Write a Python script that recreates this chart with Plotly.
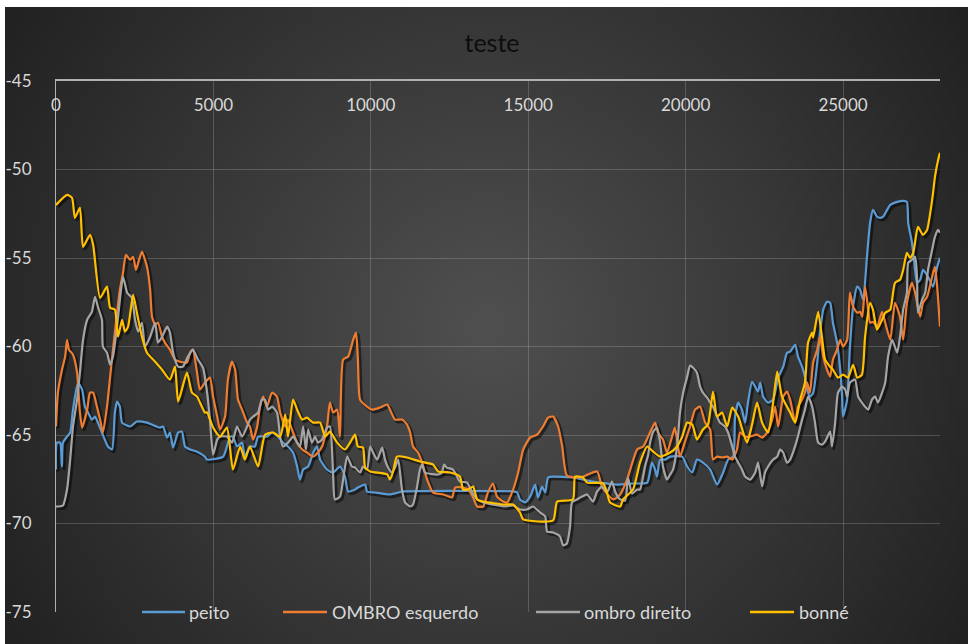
import base64
import math
import struct
import zlib

import plotly.graph_objects as go

# ---- data: (sample, level) pairs per sensor ----
peito = [
    (0, -66.95), (30, -65.43), (130, -65.43), (190, -66.78), (220, -65.43), (350, -65.09), (450, -64.86), (540, -63.57),
    (700, -62.04), (830, -62.44), (920, -63.40), (1020, -63.73), (1140, -64.13), (1240, -63.96), (1330, -64.30),
    (1460, -64.86), (1650, -65.65), (1780, -65.82), (1870, -63.73), (1940, -63.11), (2030, -63.40), (2100, -64.30),
    (2350, -64.52), (2570, -64.24), (2890, -64.30), (3300, -64.58), (3400, -64.52), (3530, -65.15), (3620, -64.86),
    (3720, -65.71), (3880, -64.86), (4000, -64.81), (4100, -65.65), (4260, -65.82), (4480, -65.94), (4730, -66.22),
    (4800, -66.39), (5310, -66.22), (5530, -65.09), (5620, -65.09), (5750, -65.65), (5910, -65.43), (6000, -66.22),
    (6160, -65.65), (6320, -65.65), (6420, -65.09), (6700, -65.09), (6860, -64.86), (7050, -65.09), (7210, -65.43),
    (7370, -65.65), (7530, -65.99), (7660, -66.78), (7750, -67.52), (7850, -66.95), (8010, -66.78), (8170, -65.99),
    (8290, -65.65), (8390, -66.39), (8610, -66.95), (8800, -67.12), (9020, -66.78), (9180, -67.35), (9280, -68.19),
    (9500, -68.08), (9590, -67.97), (9820, -67.80), (9880, -68.19), (10130, -68.25), (10610, -68.36), (10870, -68.25),
    (11020, -68.19), (14520, -68.19), (14650, -68.25), (14740, -68.64), (14900, -68.81), (15060, -68.48),
    (15220, -67.80), (15310, -68.53), (15440, -67.91), (15540, -68.25), (15630, -67.40), (15790, -67.35),
    (16420, -67.40), (16870, -67.57), (17280, -67.69), (17820, -67.80), (18330, -67.74), (18780, -67.69),
    (18930, -66.56), (19030, -66.95), (19090, -67.35), (19190, -66.39), (19350, -66.39), (19510, -66.22),
    (19890, -66.22), (20050, -66.78), (20210, -67.12), (20360, -66.39), (20550, -66.56), (20780, -66.95),
    (21000, -67.80), (21190, -67.12), (21350, -66.39), (21510, -66.22), (21570, -63.96), (21670, -63.17),
    (21790, -63.57), (21890, -64.30), (21980, -63.17), (22110, -61.99), (22210, -62.27), (22300, -62.55),
    (22370, -62.04), (22460, -62.83), (22620, -63.17), (22780, -63.00), (22940, -61.76), (23100, -61.14),
    (23220, -60.35), (23320, -60.29), (23480, -59.90), (23570, -60.57), (23700, -61.14), (23790, -61.70),
    (23860, -62.44), (23950, -62.83), (24050, -62.61), (24180, -60.91), (24270, -59.22), (24370, -57.92),
    (24490, -57.47), (24590, -57.53), (24680, -58.66), (24810, -59.78), (24910, -61.31), (24970, -62.83),
    (25000, -63.96), (25130, -63.00), (25220, -60.01), (25320, -57.75), (25450, -56.62), (25540, -56.79),
    (25640, -57.36), (25760, -54.93), (25860, -53.01), (25950, -52.28), (26080, -52.67), (26180, -52.73),
    (26270, -52.67), (26500, -52.00), (26720, -51.83), (26910, -51.77), (27030, -51.83), (27070, -53.01),
    (27190, -54.14), (27290, -55.67), (27350, -56.40), (27450, -56.23), (27540, -55.67), (27700, -56.06),
    (27860, -56.62), (27990, -55.50), (28080, -54.99),
]

ombro_esquerdo = [
    (0, -64.52), (60, -62.61), (190, -61.31), (290, -60.57), (350, -59.62), (410, -60.18), (540, -60.46), (670, -61.48),
    (760, -63.73), (830, -64.58), (990, -63.57), (1080, -62.61), (1180, -62.61), (1300, -63.40), (1400, -64.13),
    (1490, -64.86), (1620, -63.40), (1720, -61.70), (1810, -60.18), (1940, -58.09), (2030, -56.79), (2130, -55.83),
    (2220, -54.82), (2350, -55.10), (2450, -54.93), (2540, -55.67), (2640, -55.10), (2730, -54.65), (2890, -55.50),
    (2990, -56.79), (3050, -58.32), (3150, -58.77), (3240, -58.66), (3370, -59.45), (3460, -59.78), (3620, -60.18),
    (3780, -60.74), (3940, -60.86), (4160, -60.91), (4260, -60.35), (4350, -60.18), (4480, -61.48), (4570, -62.44),
    (4730, -62.04), (4890, -61.76), (4990, -62.83), (5120, -63.96), (5210, -64.69), (5370, -63.96), (5460, -61.87),
    (5590, -60.86), (5690, -61.31), (5780, -63.00), (5910, -63.57), (6070, -64.30), (6160, -64.52), (6260, -65.26),
    (6390, -64.52), (6480, -63.40), (6580, -62.83), (6700, -63.40), (6860, -62.61), (7020, -62.83), (7120, -63.73),
    (7280, -64.52), (7370, -64.13), (7530, -64.86), (7660, -65.43), (7820, -65.82), (7970, -65.99), (8170, -66.22),
    (8320, -65.99), (8450, -65.65), (8610, -64.52), (8700, -63.17), (8800, -63.73), (8930, -63.57), (9020, -65.09),
    (9120, -60.74), (9280, -60.57), (9440, -59.62), (9530, -59.22), (9590, -60.74), (9660, -63.00), (9880, -63.40),
    (10040, -63.57), (10290, -63.45), (10520, -63.28), (10610, -63.57), (10770, -64.13), (10990, -64.13),
    (11150, -64.41), (11250, -64.86), (11340, -65.65), (11500, -65.99), (11630, -66.56), (11790, -67.52),
    (11980, -68.25), (12300, -68.36), (12580, -68.53), (12680, -67.97), (12930, -67.97), (13090, -68.08),
    (13250, -68.53), (13380, -69.04), (13570, -69.04), (13720, -68.25), (13880, -67.74), (14010, -68.48),
    (14200, -68.76), (14330, -68.81), (14520, -68.08), (14680, -67.12), (14840, -65.82), (15060, -65.15),
    (15280, -64.98), (15470, -64.52), (15630, -64.02), (15790, -63.96), (15950, -64.52), (16080, -65.65),
    (16230, -67.29), (16650, -67.40), (17190, -67.06), (17350, -67.97), (17700, -68.64), (17920, -68.36),
    (18140, -67.52), (18460, -65.82), (18650, -65.65), (18810, -65.09), (19030, -64.30), (19120, -64.86),
    (19280, -65.26), (19410, -65.99), (19570, -65.09), (19660, -64.58), (19820, -66.22), (19980, -65.37),
    (20140, -64.52), (20300, -63.57), (20460, -63.40), (20620, -64.30), (20780, -64.69), (20870, -66.39),
    (21000, -66.22), (21160, -66.27), (21320, -66.22), (21480, -66.39), (21630, -65.82), (21730, -64.86),
    (21890, -65.09), (22050, -65.09), (22270, -64.98), (22430, -65.15), (22590, -64.86), (22750, -64.13),
    (22840, -63.40), (22940, -64.52), (23100, -62.83), (23220, -62.55), (23320, -63.00), (23480, -64.30),
    (23570, -63.40), (23700, -63.00), (23790, -62.61), (23860, -62.04), (23950, -62.61), (24050, -60.91),
    (24180, -60.18), (24270, -59.45), (24370, -60.57), (24490, -61.31), (24590, -61.70), (24680, -60.74),
    (24810, -60.18), (24910, -59.62), (25000, -60.01), (25130, -59.62), (25220, -56.96), (25320, -57.75),
    (25450, -58.09), (25540, -58.04), (25610, -58.32), (25700, -56.62), (25800, -57.92), (25860, -58.66),
    (25950, -58.60), (26080, -58.88), (26240, -58.04), (26340, -58.66), (26500, -59.62), (26650, -57.53),
    (26810, -58.32), (26910, -59.62), (27030, -57.53), (27190, -56.40), (27290, -56.96), (27450, -58.32),
    (27540, -57.53), (27670, -57.19), (27830, -56.06), (27920, -55.50), (27990, -56.62), (28080, -58.88),
]

ombro_direito = [
    (0, -69.04), (220, -68.98), (350, -68.08), (450, -66.39), (540, -64.52), (670, -63.00), (760, -61.48), (860, -59.62),
    (990, -58.49), (1140, -58.04), (1240, -57.19), (1330, -57.75), (1460, -58.49), (1490, -60.01), (1620, -60.35),
    (1720, -61.03), (1810, -60.57), (1940, -58.88), (2030, -57.36), (2130, -56.06), (2260, -56.96), (2410, -57.25),
    (2510, -58.49), (2610, -59.16), (2730, -58.66), (2830, -60.01), (2990, -59.45), (3150, -58.66), (3240, -59.78),
    (3370, -59.45), (3530, -58.88), (3620, -59.22), (3720, -60.35), (3880, -61.14), (4030, -61.14), (4190, -60.57),
    (4350, -60.18), (4510, -60.74), (4670, -61.20), (4800, -62.61), (4890, -64.13), (4990, -66.11), (5120, -65.26),
    (5210, -65.09), (5430, -65.09), (5590, -65.43), (5750, -64.52), (5910, -65.09), (6070, -64.52), (6160, -64.13),
    (6260, -63.96), (6420, -63.73), (6540, -63.00), (6640, -63.00), (6740, -63.57), (6860, -63.40), (7020, -63.73),
    (7120, -65.09), (7210, -65.65), (7370, -65.43), (7530, -65.09), (7660, -65.43), (7750, -65.65), (7850, -64.52),
    (7940, -65.82), (8010, -64.69), (8130, -65.43), (8230, -65.09), (8320, -65.43), (8450, -65.26), (8610, -64.58),
    (8700, -64.52), (8800, -67.12), (8860, -68.64), (9020, -68.48), (9120, -67.52), (9250, -66.22), (9400, -66.78),
    (9500, -66.84), (9660, -67.12), (9750, -66.78), (9880, -66.95), (9980, -65.65), (10070, -65.99), (10200, -66.39),
    (10360, -65.71), (10450, -66.39), (10550, -66.84), (10670, -67.12), (10770, -66.84), (10870, -66.39),
    (10990, -68.08), (11090, -68.81), (11250, -69.04), (11340, -68.93), (11470, -67.91), (11560, -66.95),
    (11630, -66.67), (11720, -67.12), (12140, -67.23), (12260, -67.12), (12330, -66.67), (12420, -66.84),
    (12610, -66.95), (12740, -67.35), (12830, -67.63), (13060, -67.69), (13220, -68.25), (13380, -68.64),
    (13570, -68.81), (13880, -68.93), (14260, -69.04), (14520, -68.98), (14740, -69.21), (14960, -69.21),
    (15150, -69.04), (15380, -69.38), (15540, -69.60), (15600, -70.45), (15790, -70.51), (16010, -70.73),
    (16110, -71.24), (16230, -71.13), (16330, -70.17), (16390, -68.81), (16550, -68.64), (16710, -68.48),
    (16870, -68.36), (17060, -68.76), (17190, -68.19), (17350, -67.91), (17500, -68.25), (17660, -67.63),
    (17760, -68.19), (17920, -68.64), (18080, -68.70), (18170, -67.40), (18300, -68.31), (18460, -68.08),
    (18550, -68.08), (18710, -66.78), (18810, -66.11), (18870, -65.43), (18970, -64.81), (19090, -64.58),
    (19190, -65.43), (19280, -66.78), (19410, -67.52), (19510, -67.23), (19600, -66.95), (19730, -65.65),
    (19820, -63.73), (19920, -62.61), (20050, -61.70), (20140, -61.08), (20240, -61.20), (20360, -61.48),
    (20460, -62.27), (20550, -62.61), (20680, -62.89), (20780, -63.17), (20870, -63.40), (21000, -63.96),
    (21090, -64.30), (21250, -64.52), (21350, -64.86), (21480, -65.65), (21570, -66.22), (21670, -66.56),
    (21790, -66.95), (21890, -67.35), (22050, -67.52), (22210, -67.12), (22300, -66.56), (22430, -67.91),
    (22520, -67.12), (22620, -66.78), (22780, -66.39), (22910, -66.22), (23000, -65.82), (23100, -65.99),
    (23220, -66.56), (23320, -66.39), (23410, -65.99), (23540, -65.26), (23700, -64.13), (23790, -63.57),
    (23890, -62.83), (24020, -63.40), (24110, -64.30), (24210, -65.43), (24330, -65.54), (24430, -65.37),
    (24590, -64.81), (24650, -65.65), (24750, -64.30), (24840, -62.61), (24970, -62.27), (25070, -62.44),
    (25130, -62.83), (25220, -62.04), (25380, -61.87), (25480, -62.83), (25600, -63.17), (25700, -63.40),
    (25800, -63.57), (25920, -63.00), (26020, -62.83), (26110, -63.17), (26240, -62.61), (26340, -62.04),
    (26430, -60.57), (26560, -59.62), (26720, -60.35), (26810, -59.45), (26910, -57.92), (27030, -56.96),
    (27070, -55.27), (27190, -55.10), (27290, -54.93), (27350, -56.06), (27380, -58.09), (27510, -57.36),
    (27610, -56.96), (27700, -55.67), (27830, -54.54), (27920, -53.80), (28020, -53.41), (28080, -53.58),
]

bonne = [
    (0, -52.00), (350, -51.43), (510, -51.60), (600, -52.73), (760, -52.17), (860, -54.37), (1080, -53.69),
    (1180, -54.25), (1400, -57.25), (1620, -56.62), (1720, -57.81), (1870, -57.92), (1970, -59.45), (2100, -58.49),
    (2190, -59.16), (2290, -58.88), (2450, -57.08), (2570, -58.09), (2730, -59.45), (2890, -60.35), (3150, -60.86),
    (3370, -61.31), (3620, -61.87), (3780, -61.14), (3880, -63.11), (4160, -61.48), (4320, -62.61), (4480, -62.83),
    (4730, -63.73), (4800, -63.73), (4990, -64.58), (5210, -65.09), (5430, -64.58), (5620, -66.95), (5850, -65.65),
    (6000, -66.39), (6160, -65.65), (6420, -66.78), (6640, -64.98), (6890, -64.86), (7120, -65.09), (7280, -63.85),
    (7370, -65.09), (7530, -63.00), (7660, -63.57), (7820, -64.13), (7970, -64.02), (8170, -64.30), (8390, -64.30),
    (8550, -65.09), (8700, -64.81), (8930, -65.43), (9180, -65.82), (9340, -65.43), (9500, -64.98), (9590, -65.65),
    (9750, -65.71), (9820, -66.84), (9980, -67.06), (10520, -67.23), (10610, -67.52), (10710, -67.06),
    (10830, -66.22), (11150, -66.27), (11560, -66.50), (11980, -66.67), (12140, -67.06), (12520, -67.12),
    (12830, -67.35), (12930, -68.08), (13090, -68.08), (13250, -67.91), (13380, -68.64), (13570, -68.76),
    (14260, -68.93), (14520, -68.93), (14740, -69.38), (14840, -69.77), (15790, -69.83), (15920, -68.76),
    (16420, -68.64), (16490, -67.35), (16740, -67.40), (16870, -67.69), (17380, -67.74), (17500, -68.25),
    (17600, -68.81), (17920, -69.04), (18010, -68.64), (18330, -68.08), (18550, -66.56), (18780, -65.65),
    (18970, -65.94), (19190, -66.22), (19510, -65.99), (19730, -65.65), (19890, -65.09), (20050, -64.30),
    (20210, -64.41), (20360, -65.26), (20550, -64.69), (20710, -64.41), (20870, -62.55), (21000, -63.96),
    (21160, -63.73), (21320, -64.52), (21480, -63.45), (21670, -63.96), (21830, -64.86), (21950, -65.43),
    (22110, -64.41), (22270, -63.17), (22430, -64.30), (22620, -64.86), (22780, -63.17), (22910, -61.42),
    (23060, -62.83), (23320, -63.73), (23480, -64.30), (23640, -63.00), (23790, -62.04), (23890, -59.78),
    (24020, -59.22), (24050, -59.50), (24210, -58.04), (24330, -59.45), (24430, -60.74), (24590, -61.14),
    (24680, -61.31), (24840, -61.76), (25000, -61.59), (25160, -61.76), (25320, -61.03), (25450, -61.76),
    (25600, -61.59), (25700, -59.45), (25860, -57.53), (25950, -57.92), (26080, -59.05), (26240, -58.49),
    (26340, -58.09), (26500, -57.92), (26650, -56.40), (26810, -56.23), (26910, -55.67), (27030, -54.71),
    (27130, -54.99), (27230, -54.71), (27380, -53.24), (27540, -53.69), (27670, -53.41), (27770, -52.45),
    (27860, -51.32), (27920, -50.42), (28020, -49.46), (28080, -49.06),
]

series = [
    ("peito", peito, "#5b9bd5"),
    ("OMBRO esquerdo", ombro_esquerdo, "#ed7d31"),
    ("ombro direito", ombro_direito, "#a5a5a5"),
    ("bonné", bonne, "#ffc000"),
]

x_ticks = [0, 5000, 10000, 15000, 20000, 25000]
x_tick_text = ["0", "5000", "10000", "15000", "20000", "25000"]
y_ticks = [-75, -70, -65, -60, -55, -50, -45]
y_tick_text = ["-75", "-70", "-65", "-60", "-55", "-50", "-45"]
X_RANGE = [0, 28080]
Y_RANGE = [-75, -45]

# ---- figure geometry (pixels) ----
FIG_W, FIG_H = 968, 644
M_L, M_R, M_T, M_B = 56, 28, 81, 32
PLOT_W = FIG_W - M_L - M_R
PLOT_H = FIG_H - M_T - M_B


def px_to_paper_x(px):
    return (px - M_L) / PLOT_W


def px_to_paper_y(py):
    return 1 - (py - M_T) / PLOT_H


def radial_gradient_png(w, h, inner, outer):
    """Small PNG with a circular gradient, brightest in the middle."""
    cx, cy = w / 2, h / 2
    rmax = math.hypot(cx, cy)
    raw = bytearray()
    for j in range(h):
        raw.append(0)
        for i in range(w):
            d = math.hypot(i + 0.5 - cx, j + 0.5 - cy) / rmax
            v = int(round(inner + (outer - inner) * d))
            raw.extend((v, v, v))

    def chunk(tag, data):
        c = struct.pack(">I", len(data)) + tag + data
        return c + struct.pack(">I", zlib.crc32(tag + data) & 0xFFFFFFFF)

    png = b"\x89PNG\r\n\x1a\n"
    png += chunk(b"IHDR", struct.pack(">IIBBBBB", w, h, 8, 2, 0, 0, 0))
    png += chunk(b"IDAT", zlib.compress(bytes(raw), 9))
    png += chunk(b"IEND", b"")
    return "data:image/png;base64," + base64.b64encode(png).decode()


FONT = "Lato, 'Open Sans', sans-serif"
LABEL_COLOR = "#d9d9d9"
GRID_COLOR = "rgba(217,217,217,0.22)"
AXIS_COLOR = "#b0b0b0"
LINE_SHAPE = dict(shape="spline", smoothing=0.55)

fig = go.Figure()

# empty trace so the main (labelled) axes get their own subplot
fig.add_trace(go.Scatter(x=[], y=[], xaxis="x", yaxis="y",
                         hoverinfo="skip", showlegend=False))

# drop shadows under each line (axes shifted by a couple of pixels)
shift_x = 2 * (X_RANGE[1] - X_RANGE[0]) / PLOT_W
shift_y = 2 * (Y_RANGE[1] - Y_RANGE[0]) / PLOT_H
for name, pts, color in series:
    xs, ys = zip(*pts)
    fig.add_trace(go.Scatter(
        x=xs, y=ys, mode="lines", xaxis="x2", yaxis="y2",
        line=dict(color="rgba(0,0,0,0.5)", width=3.4, **LINE_SHAPE),
        hoverinfo="skip", showlegend=False,
    ))

for name, pts, color in series:
    xs, ys = zip(*pts)
    fig.add_trace(go.Scatter(
        x=xs, y=ys, mode="lines", name=name, xaxis="x3", yaxis="y3",
        line=dict(color=color, width=2.2, **LINE_SHAPE), showlegend=False,
    ))

# legend drawn along the bottom of the plot area
legend_items = [
    # (line start px, line end px, text start px)
    (142, 185, 188),
    (283, 327, 331),
    (536, 580, 583),
    (750, 794, 798),
]
shapes = []
annotations = []
legend_y = px_to_paper_y(612)
for (name, pts, color), (l0, l1, t0) in zip(series, legend_items):
    shapes.append(dict(
        type="line", xref="paper", yref="paper",
        x0=px_to_paper_x(l0), x1=px_to_paper_x(l1), y0=legend_y, y1=legend_y,
        line=dict(color=color, width=2.5),
    ))
    annotations.append(dict(
        xref="paper", yref="paper", x=px_to_paper_x(t0), y=legend_y,
        xanchor="left", yanchor="middle", text=name, showarrow=False,
        font=dict(family=FONT, size=18, color=LABEL_COLOR), borderpad=0,
    ))

bg_left, bg_top = 5, 7
images = [dict(
    source=radial_gradient_png(121, 80, 80, 33),
    xref="paper", yref="paper",
    x=px_to_paper_x(bg_left), y=px_to_paper_y(bg_top),
    sizex=(FIG_W - bg_left) / PLOT_W, sizey=(FIG_H - bg_top) / PLOT_H,
    xanchor="left", yanchor="top", sizing="stretch", layer="below",
)]

hidden = dict(visible=False, showgrid=False, zeroline=False, fixedrange=True)

fig.update_layout(
    width=FIG_W, height=FIG_H,
    margin=dict(l=M_L, r=M_R, t=M_T, b=M_B, pad=0, autoexpand=False),
    paper_bgcolor="white",
    plot_bgcolor="rgba(0,0,0,0)",
    font=dict(family=FONT, color=LABEL_COLOR),
    title=dict(
        text="teste", x=px_to_paper_x(492), xref="paper", xanchor="center",
        y=1 - 43 / FIG_H, yref="container", yanchor="middle",
        font=dict(family=FONT, size=25, color="#0d0d0d"),
    ),
    xaxis=dict(
        range=X_RANGE, side="top", tickvals=x_ticks, ticktext=x_tick_text, ticks="",
        ticklabelposition="inside", ticklabelstandoff=19, ticklabeloverflow="allow",
        tickfont=dict(family=FONT, size=17, color=LABEL_COLOR),
        showline=True, linecolor=AXIS_COLOR, linewidth=1.5,
        showgrid=True, gridcolor=GRID_COLOR, gridwidth=1,
        zeroline=False, fixedrange=True, automargin=False,
    ),
    yaxis=dict(
        range=Y_RANGE, tickvals=y_ticks, ticktext=y_tick_text, ticks="",
        ticklabelstandoff=20, ticklabeloverflow="allow",
        tickfont=dict(family=FONT, size=17, color=LABEL_COLOR),
        showline=True, linecolor=AXIS_COLOR, linewidth=1,
        showgrid=True, gridcolor=GRID_COLOR, gridwidth=1,
        zeroline=False, fixedrange=True, automargin=False,
    ),
    xaxis2=dict(hidden, overlaying="x", anchor="y2",
                range=[X_RANGE[0] - shift_x, X_RANGE[1] - shift_x]),
    yaxis2=dict(hidden, overlaying="y", anchor="x2",
                range=[Y_RANGE[0] + shift_y, Y_RANGE[1] + shift_y]),
    xaxis3=dict(hidden, overlaying="x", anchor="y3", range=X_RANGE),
    yaxis3=dict(hidden, overlaying="y", anchor="x3", range=Y_RANGE),
    shapes=shapes,
    annotations=annotations,
    images=images,
    showlegend=False,
)

fig.write_html("out.html")
